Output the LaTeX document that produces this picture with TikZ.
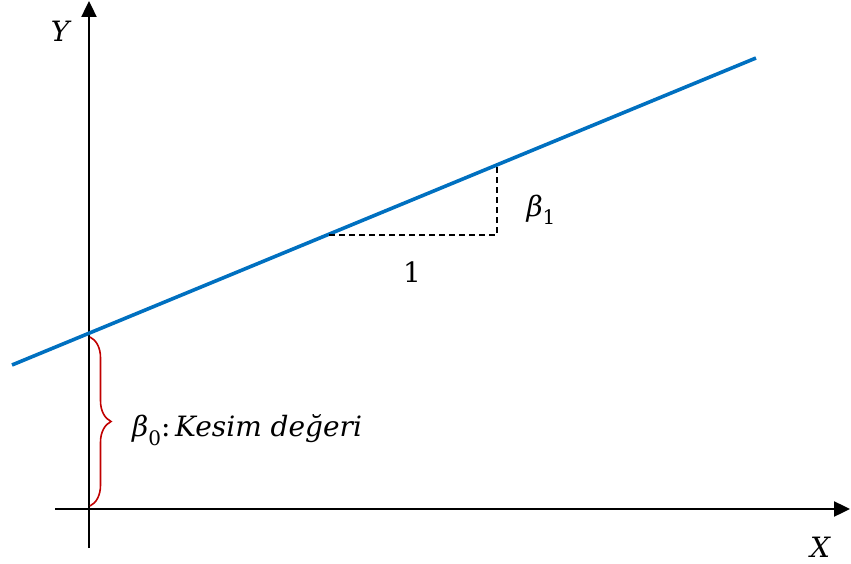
\documentclass[tikz,border=0pt]{standalone}
\usepackage{fontspec}
\newfontfamily\labfont{DejaVu Serif}
\usetikzlibrary{arrows.meta,decorations.pathreplacing}
\definecolor{lineblue}{RGB}{0,112,192}
\definecolor{bracered}{RGB}{192,0,0}
\newcommand{\subidx}[1]{\raisebox{-0.3em}{\fontsize{20}{24}\selectfont #1}}
\begin{document}
\begin{tikzpicture}[x=1pt,y=-1pt,
  axis/.style={line width=2.4pt,-{Triangle[length=16pt,width=15pt]}},
  regline/.style={line width=3.6pt,lineblue},
  guide/.style={line width=1.4pt,dash pattern=on 6pt off 4pt},
  lbl/.style={inner sep=0pt,font=\labfont\fontsize{28}{32}\selectfont}]
\useasboundingbox (0,0) rectangle (851,564);
% axes
\coordinate (ybot) at (89,548);
\coordinate (ytop) at (89,1);
\coordinate (xl) at (55,509);
\coordinate (xr) at (850,509);
\draw[axis] (ybot) -- (ytop);
\draw[axis] (xl) -- (xr);
% regression line
\coordinate (ls) at (12,365);
\coordinate (le) at (756,58);
\draw[regline] (ls) -- (le);
% slope triangle
\coordinate (ta) at (329,235);
\coordinate (tc) at (497,235);
\coordinate (tb) at (497,165);
\draw[guide] (ta) -- (tc) -- (tb);
% brace
\coordinate (bt) at (90,337);
\coordinate (bb) at (90,506);
\draw[bracered,line width=1.6pt,decorate,decoration={brace,amplitude=21pt}] (bt) -- (bb);
% labels
\node[lbl] (ylab) at (60,31) {\itshape Y};
\node[lbl] (xlab) at (820,547) {\itshape X};
\node[lbl] (b1) at (541,210) {{\itshape β}\subidx{1}};
\node[lbl] (one) at (412,272) {1};
\node[lbl,anchor=west] (b0) at (132,430) {{\itshape β}\subidx{0}:\,{\itshape Kesim değeri}};
\end{tikzpicture}
\end{document}
